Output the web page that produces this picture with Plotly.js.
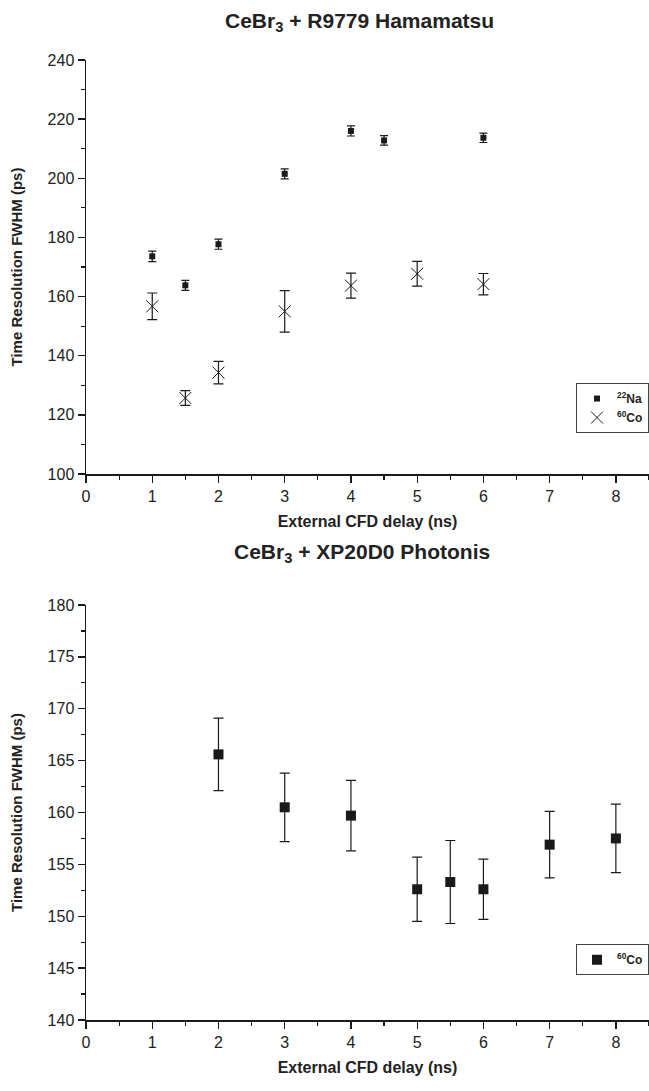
<!DOCTYPE html>
<html>
<head>
<meta charset="utf-8">
<script src="https://cdn.plot.ly/plotly-3.0.1.min.js"></script>
<style>html,body{margin:0;padding:0;background:#fff;}#chart{width:649px;height:1091px;}</style>
</head>
<body>
<div id="chart"></div>
<script>
// Top panel: CeBr3 + R9779 Hamamatsu
const naDelay = [1, 1.5, 2, 3, 4, 4.5, 6];
const naFWHM  = [173.6, 163.8, 177.7, 201.5, 216.0, 212.8, 213.7];
const naErr   = [1.8, 1.7, 1.7, 1.7, 1.7, 1.6, 1.6];

const coDelayTop = [1, 1.5, 2, 3, 4, 5, 6];
const coFWHMTop  = [156.7, 125.7, 134.3, 155.0, 163.7, 167.7, 164.2];
const coErrTop   = [4.5, 2.5, 3.8, 7.0, 4.2, 4.2, 3.6];

// Bottom panel: CeBr3 + XP20D0 Photonis
const coDelayBot = [2, 3, 4, 5, 5.5, 6, 7, 8];
const coFWHMBot  = [165.6, 160.5, 159.7, 152.6, 153.3, 152.6, 156.9, 157.5];
const coErrBot   = [3.5, 3.3, 3.4, 3.1, 4.0, 2.9, 3.2, 3.3];

const titleTop = 'CeBr<sub>3</sub> + R9779 Hamamatsu';
const titleBot = 'CeBr<sub>3</sub> + XP20D0 Photonis';
const xTitle = 'External CFD delay (ns)';
const yTitle = 'Time Resolution FWHM (ps)';
const nameNa = '<sup>22</sup>Na';
const nameCo = '<sup>60</sup>Co';

const ink = '#1a1a1a';
const FONT = 'Liberation Sans, Arial, sans-serif';

const traces = [
  {x: naDelay, y: naFWHM, type: 'scatter', mode: 'markers', name: nameNa,
   xaxis: 'x', yaxis: 'y', legend: 'legend',
   marker: {symbol: 'square', size: 6, color: ink},
   error_y: {type: 'data', array: naErr, visible: true, color: ink, thickness: 1.2, width: 4}},
  {x: coDelayTop, y: coFWHMTop, type: 'scatter', mode: 'markers', name: nameCo,
   xaxis: 'x', yaxis: 'y', legend: 'legend',
   marker: {symbol: 'x-thin-open', size: 12, color: ink, line: {color: ink, width: 1}},
   error_y: {type: 'data', array: coErrTop, visible: true, color: ink, thickness: 1.2, width: 5}},
  {x: coDelayBot, y: coFWHMBot, type: 'scatter', mode: 'markers', name: nameCo,
   xaxis: 'x2', yaxis: 'y2', legend: 'legend2',
   marker: {symbol: 'square', size: 10, color: ink},
   error_y: {type: 'data', array: coErrBot, visible: true, color: ink, thickness: 1.2, width: 5}}
];

function xAxis(anchor){
  return {
    anchor: anchor, domain: [0, 1], range: [0, 8.5], dtick: 1, tick0: 0,
    showgrid: false, zeroline: false, showline: true, linecolor: ink, linewidth: 1.5,
    ticks: 'outside', ticklen: 7, tickwidth: 1.3, tickcolor: ink,
    minor: {dtick: 0.5, ticks: 'outside', ticklen: 4, tickwidth: 1.2, tickcolor: ink, showgrid: false},
    tickfont: {family: FONT, size: 16, color: '#222'},
    title: {text: '<b>' + xTitle + '</b>', font: {family: FONT, size: 16, color: '#222'}, standoff: 12}
  };
}
function yAxis(anchor, domain, range, dtick, minorDtick){
  return {
    anchor: anchor, domain: domain, range: range, dtick: dtick,
    showgrid: false, zeroline: false, showline: true, linecolor: ink, linewidth: 1.5,
    ticks: 'outside', ticklen: 7, tickwidth: 1.3, tickcolor: ink,
    minor: {dtick: minorDtick, ticks: 'outside', ticklen: 4, tickwidth: 1.2, tickcolor: ink, showgrid: false},
    tickfont: {family: FONT, size: 16, color: '#222'},
    title: {text: '<b>' + yTitle + '</b>', font: {family: FONT, size: 15, color: '#222'}, standoff: 21}
  };
}

const legendStyle = {
  xref: 'paper', yref: 'paper', x: 1, xanchor: 'right', yanchor: 'top',
  bgcolor: '#fff', bordercolor: '#444', borderwidth: 1,
  font: {family: FONT, size: 12, color: '#222', weight: 'bold'},
  itemwidth: 30, tracegroupgap: 0
};

const layout = {
  width: 649, height: 1091,
  margin: {l: 86, r: 0, t: 60, b: 71},
  paper_bgcolor: '#fff', plot_bgcolor: '#fff',
  showlegend: true,
  xaxis: xAxis('y'),
  yaxis: yAxis('x', [0.56875, 1], [100, 240], 20, 10),
  xaxis2: xAxis('y2'),
  yaxis2: yAxis('x2', [0, 0.4323], [140, 180], 5, 2.5),
  legend: Object.assign({}, legendStyle, {y: 0.6635}),
  legend2: Object.assign({}, legendStyle, {y: 0.079}),
  annotations: [
    {text: '<b>' + titleTop + '</b>', xref: 'paper', yref: 'paper', x: 0.485, y: 1.0396,
     xanchor: 'center', yanchor: 'middle', showarrow: false,
     font: {family: FONT, size: 21, color: '#222'}},
    {text: '<b>' + titleBot + '</b>', xref: 'paper', yref: 'paper', x: 0.49, y: 0.4865,
     xanchor: 'center', yanchor: 'middle', showarrow: false,
     font: {family: FONT, size: 21, color: '#222'}}
  ]
};

Plotly.newPlot('chart', traces, layout, {displayModeBar: false, staticPlot: true});
</script>
</body>
</html>
